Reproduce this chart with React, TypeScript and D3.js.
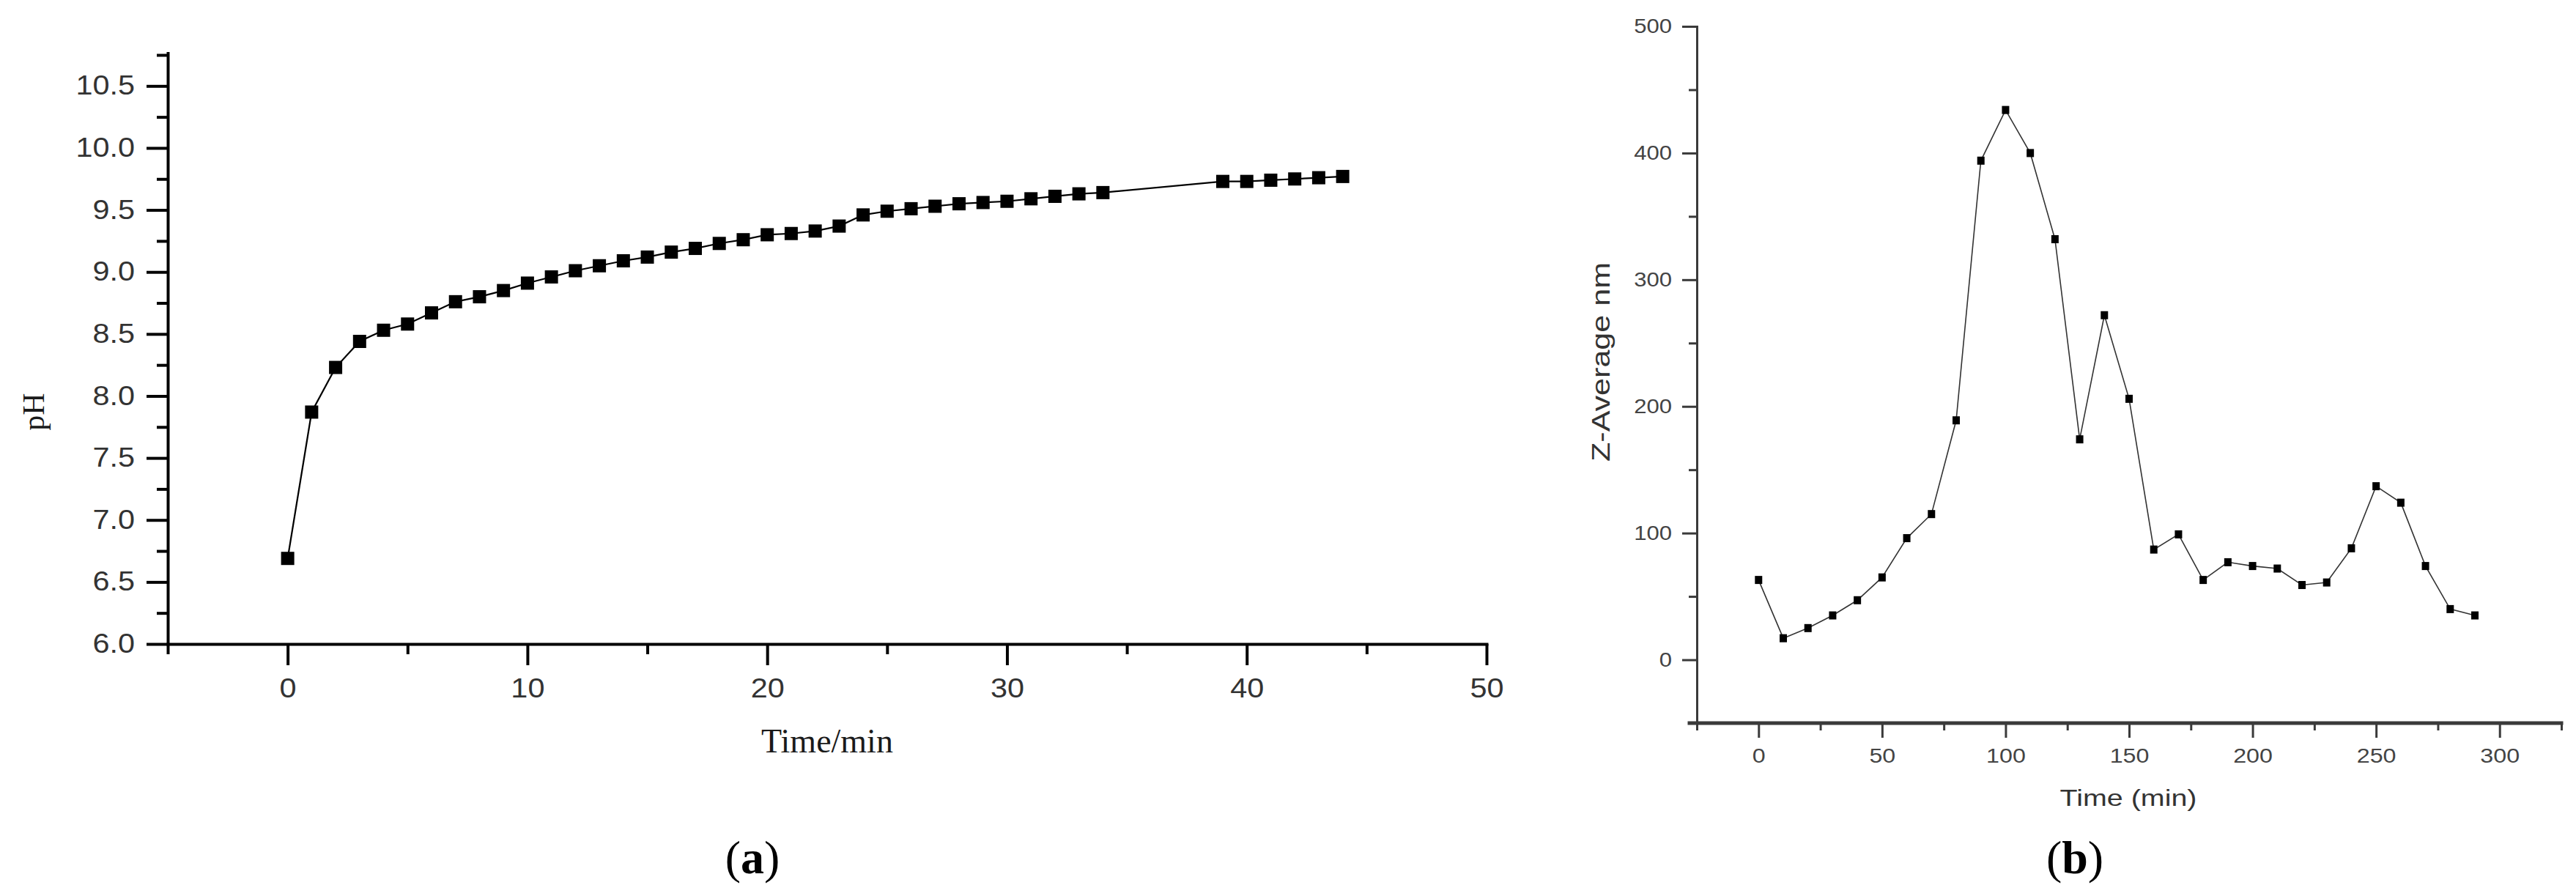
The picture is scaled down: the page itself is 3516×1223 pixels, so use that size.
import React, { useEffect, useRef } from 'react';
import * as d3 from 'd3';

const W = 3516;
const H = 1223;

// Panel (a): pH vs time
const phTime = [0, 1, 2, 3, 4, 5, 6, 7, 8, 9, 10, 11, 12, 13, 14, 15, 16, 17, 18, 19, 20, 21, 22, 23, 24, 25, 26, 27, 28, 29, 30, 31, 32, 33, 34, 39, 40, 41, 42, 43, 44];
const phValues = [6.69, 7.87, 8.23, 8.44, 8.53, 8.58, 8.67, 8.76, 8.80, 8.85, 8.91, 8.96, 9.01, 9.05, 9.09, 9.12, 9.16, 9.19, 9.23, 9.26, 9.30, 9.31, 9.33, 9.37, 9.46, 9.49, 9.51, 9.53, 9.55, 9.56, 9.57, 9.59, 9.61, 9.63, 9.64, 9.73, 9.73, 9.74, 9.75, 9.76, 9.77];
const phXMajor = [0, 10, 20, 30, 40, 50];
const phXMinor = [-5, 5, 15, 25, 35, 45];
const phYMajor = [6.0, 6.5, 7.0, 7.5, 8.0, 8.5, 9.0, 9.5, 10.0, 10.5];
const phYMinor = [6.25, 6.75, 7.25, 7.75, 8.25, 8.75, 9.25, 9.75, 10.25, 10.75];

// Panel (b): Z-Average vs time
const zTime = [0, 10, 20, 30, 40, 50, 60, 70, 80, 90, 100, 110, 120, 130, 140, 150, 160, 170, 180, 190, 200, 210, 220, 230, 240, 250, 260, 270, 280, 290];
const zValues = [63, 17, 25, 35, 47, 65, 96, 115, 189, 394, 434, 400, 332, 174, 272, 206, 87, 99, 63, 77, 74, 72, 59, 61, 88, 137, 124, 74, 40, 35];
const zXMajor = [0, 50, 100, 150, 200, 250, 300];
const zXMinor = [-25, 25, 75, 125, 175, 225, 275, 325];
const zYMajor = [0, 100, 200, 300, 400, 500];
const zYMinor = [50, 150, 250, 350, 450];

const SANS = '"Liberation Sans", Arial, Helvetica, sans-serif';
const SERIF = '"Liberation Serif", "Times New Roman", Times, serif';

function stretchTexts(sel: any, factor: number) {
  sel.each(function (this: any) {
    const w = this.getComputedTextLength();
    if (w > 0) {
      this.setAttribute('textLength', String(w * factor));
      this.setAttribute('lengthAdjust', 'spacingAndGlyphs');
    }
  });
}

function styleAxis(g: any, color: string, width: number, fontSize: number, fill: string, stretch: number) {
  g.attr('font-family', SANS).attr('font-size', fontSize);
  g.select('.domain').attr('stroke', color).attr('stroke-width', width).attr('stroke-linecap', 'square');
  g.selectAll('.tick line').attr('stroke', color).attr('stroke-width', width);
  const t = g.selectAll('.tick text').attr('fill', fill);
  stretchTexts(t, stretch);
}

export default function App() {
  const ref = useRef<SVGSVGElement | null>(null);

  useEffect(() => {
    const svg = d3.select(ref.current);
    svg.selectAll('*').remove();

    // ---------- Panel (a) ----------
    const xa = d3.scaleLinear().domain([-5, 50]).range([229, 2029]);
    const ya = d3.scaleLinear().domain([6, 10.75]).range([879, 75]);
    const ga = svg.append('g');

    const xaMinor = ga.append('g').attr('transform', 'translate(0,879)')
      .call(d3.axisBottom(xa).tickValues(phXMinor).tickSize(14).tickSizeOuter(0).tickFormat(() => '') as any);
    xaMinor.select('.domain').remove();
    xaMinor.selectAll('.tick line').attr('stroke', '#000').attr('stroke-width', 4);

    const yaMinor = ga.append('g').attr('transform', 'translate(229,0)')
      .call(d3.axisLeft(ya).tickValues(phYMinor).tickSize(15).tickSizeOuter(0).tickFormat(() => '') as any);
    yaMinor.select('.domain').remove();
    yaMinor.selectAll('.tick line').attr('stroke', '#000').attr('stroke-width', 4);

    const xaAxis = ga.append('g').attr('transform', 'translate(0,879)')
      .call(d3.axisBottom(xa).tickValues(phXMajor).tickSize(29).tickPadding(18).tickSizeOuter(0).tickFormat(d3.format('d')) as any);
    styleAxis(xaAxis, '#000', 4, 37, '#333', 1.12);

    const yaAxis = ga.append('g').attr('transform', 'translate(229,0)')
      .call(d3.axisLeft(ya).tickValues(phYMajor).tickSize(29).tickPadding(16).tickSizeOuter(0).tickFormat(d3.format('.1f')) as any);
    styleAxis(yaAxis, '#000', 4, 36, '#333', 1.15);
    yaAxis.select('.domain').attr('d', 'M0.5,879V73');

    const pts: [number, number][] = phTime.map((t, i) => [t, phValues[i]]);
    const lineA = d3.line<[number, number]>().x(d => xa(d[0])).y(d => ya(d[1]));
    ga.append('path').attr('d', lineA(pts) as string).attr('fill', 'none').attr('stroke', '#000').attr('stroke-width', 2.2);
    ga.selectAll('rect.ma').data(pts).enter().append('rect')
      .attr('x', d => xa(d[0]) - 9).attr('y', d => ya(d[1]) - 9)
      .attr('width', 18).attr('height', 18).attr('fill', '#000');

    ga.append('text').attr('x', 1129).attr('y', 1027).attr('text-anchor', 'middle')
      .attr('font-family', SERIF).attr('font-size', 46).attr('fill', '#1a1a1a').text('Time/min');
    ga.append('text').attr('transform', 'translate(60,562) rotate(-90)').attr('text-anchor', 'middle')
      .attr('font-family', SERIF).attr('font-size', 42).attr('fill', '#1a1a1a').text('pH');
    const la = ga.append('text').attr('x', 1027).attr('y', 1192).attr('text-anchor', 'middle')
      .attr('font-family', SERIF).attr('font-size', 64).attr('fill', '#000');
    la.append('tspan').text('(');
    la.append('tspan').attr('font-weight', 'bold').text('a');
    la.append('tspan').text(')');

    // ---------- Panel (b) ----------
    const xb = d3.scaleLinear().domain([-25, 325]).range([2316, 3496]);
    const yb = d3.scaleLinear().domain([-50, 500]).range([987, 36]);
    const gb = svg.append('g');
    const axColor = '#3a3a3a';

    const xbMinor = gb.append('g').attr('transform', 'translate(0,987)')
      .call(d3.axisBottom(xb).tickValues(zXMinor).tickSize(10).tickSizeOuter(0).tickFormat(() => '') as any);
    xbMinor.select('.domain').remove();
    xbMinor.selectAll('.tick line').attr('stroke', axColor).attr('stroke-width', 3);

    const ybMinor = gb.append('g').attr('transform', 'translate(2316,0)')
      .call(d3.axisLeft(yb).tickValues(zYMinor).tickSize(11).tickSizeOuter(0).tickFormat(() => '') as any);
    ybMinor.select('.domain').remove();
    ybMinor.selectAll('.tick line').attr('stroke', axColor).attr('stroke-width', 3);

    const ybAxis = gb.append('g').attr('transform', 'translate(2316,0)')
      .call(d3.axisLeft(yb).tickValues(zYMajor).tickSize(20).tickPadding(14).tickSizeOuter(0).tickFormat(d3.format('d')) as any);
    styleAxis(ybAxis, axColor, 3, 27, '#444', 1.15);

    const xbAxis = gb.append('g').attr('transform', 'translate(0,987)')
      .call(d3.axisBottom(xb).tickValues(zXMajor).tickSize(20).tickPadding(14).tickSizeOuter(0).tickFormat(d3.format('d')) as any);
    styleAxis(xbAxis, axColor, 3, 28, '#444', 1.15);
    xbAxis.select('.domain').attr('stroke-width', 5).attr('d', 'M2306,0H3496');

    const ptsB: [number, number][] = zTime.map((t, i) => [t, zValues[i]]);
    const lineB = d3.line<[number, number]>().x(d => xb(d[0])).y(d => yb(d[1]));
    gb.append('path').attr('d', lineB(ptsB) as string).attr('fill', 'none').attr('stroke', '#333').attr('stroke-width', 1.6);
    gb.selectAll('rect.mb').data(ptsB).enter().append('rect')
      .attr('x', d => xb(d[0]) - 5).attr('y', d => yb(d[1]) - 5.5)
      .attr('width', 10).attr('height', 11).attr('fill', '#000');

    const tb = gb.append('text').attr('x', 2905).attr('y', 1100).attr('text-anchor', 'middle')
      .attr('font-family', SANS).attr('font-size', 32).attr('fill', '#333').text('Time (min)');
    tb.attr('textLength', 187).attr('lengthAdjust', 'spacingAndGlyphs');
    const zl = gb.append('text').attr('transform', 'translate(2197,494) rotate(-90)').attr('text-anchor', 'middle')
      .attr('font-family', SANS).attr('font-size', 35).attr('fill', '#333').text('Z-Average nm');
    zl.attr('textLength', 272).attr('lengthAdjust', 'spacingAndGlyphs');
    const lb = gb.append('text').attr('x', 2832).attr('y', 1192).attr('text-anchor', 'middle')
      .attr('font-family', SERIF).attr('font-size', 64).attr('fill', '#000');
    lb.append('tspan').text('(');
    lb.append('tspan').attr('font-weight', 'bold').text('b');
    lb.append('tspan').text(')');
  }, []);

  return (
    <svg
      ref={ref}
      width={W}
      height={H}
      viewBox={`0 0 ${W} ${H}`}
      style={{ position: 'absolute', left: 0, top: 0, background: '#fff' }}
    />
  );
}
